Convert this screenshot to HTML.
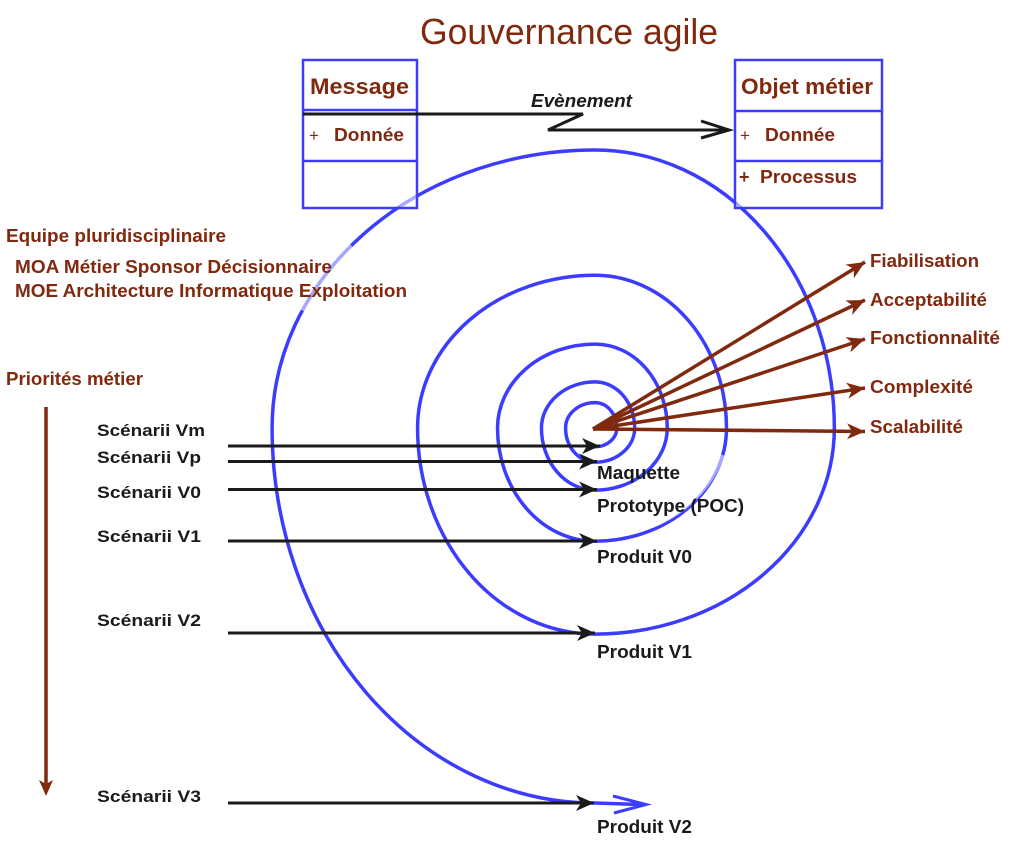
<!DOCTYPE html>
<html>
<head>
<meta charset="utf-8">
<style>
  html, body { margin: 0; padding: 0; background: #ffffff; }
  svg { display: block; }
  text { font-family: "Liberation Sans", Arial, sans-serif; }
  .red { fill: #80290f; font-weight: bold; }
  .blk { fill: #1a1a1a; font-weight: bold; }
</style>
</head>
<body>
<svg width="1024" height="852" viewBox="0 0 1024 852" xmlns="http://www.w3.org/2000/svg">
  <defs>
    <marker id="ar" markerWidth="20" markerHeight="16" refX="18" refY="8" orient="auto" markerUnits="userSpaceOnUse">
      <path d="M0,0 L18,8 L0,16 L5,8 z" fill="#80290f"/>
    </marker>
    <marker id="ab" markerWidth="20" markerHeight="16" refX="18" refY="8" orient="auto" markerUnits="userSpaceOnUse">
      <path d="M0,0 L18,8 L0,16 L5,8 z" fill="#1a1a1a"/>
    </marker>
  </defs>

  <rect x="0" y="0" width="1024" height="852" fill="#ffffff"/>

  <!-- Title -->
  <text x="420" y="44" font-size="36" fill="#80290f" textLength="298" lengthAdjust="spacingAndGlyphs">Gouvernance agile</text>

  <!-- Spiral -->
  <path fill="none" stroke="#3c3cff" stroke-width="3.5" stroke-linecap="round" d="
    M 595 446.78
    A 21.81 18.78 0 0 0 616.81 428
    A 21.81 25.33 0 0 0 595 402.67
    A 29.42 25.33 0 0 0 565.58 428
    A 29.42 34.18 0 0 0 595 462.18
    A 39.70 34.18 0 0 0 634.70 428
    A 39.70 46.11 0 0 0 595 381.89
    A 53.56 46.11 0 0 0 541.44 428
    A 53.56 62.21 0 0 0 595 490.21
    A 72.26 62.21 0 0 0 667.26 428
    A 72.26 83.93 0 0 0 595 344.07
    A 97.48 83.93 0 0 0 497.52 428
    A 97.48 113.22 0 0 0 595 541.22
    A 131.51 113.22 0 0 0 726.51 428
    A 131.51 152.75 0 0 0 595 275.25
    A 177.42 152.75 0 0 0 417.58 428
    A 177.42 206.07 0 0 0 595 634.07
    A 239.35 206.07 0 0 0 834.35 428
    A 239.35 278.01 0 0 0 595 149.99
    A 322.91 278.01 0 0 0 272.09 428
    A 322.91 375.06 0 0 0 595 803.06
    L 640 804.5"/>
  <polyline points="613,796 646,804.5 614,813" fill="none" stroke="#3c3cff" stroke-width="3" stroke-linejoin="miter"/>

  <!-- lighter spiral segments -->
  <path d="M 351.3 245.6 A 322.91 278.01 0 0 0 302.4 310.5" fill="none" stroke="#ffffff" stroke-opacity="0.55" stroke-width="4"/>
  <path d="M 652 526.3 A 131.51 113.22 0 0 0 722.7 455" fill="none" stroke="#ffffff" stroke-opacity="0.55" stroke-width="4"/>

  <!-- UML boxes -->
  <g stroke="#3c3cff" stroke-width="2.5">
    <rect x="303" y="60" width="114" height="148" fill="#ffffff" fill-opacity="0.55"/>
    <line x1="303" y1="110" x2="417" y2="110"/>
    <line x1="303" y1="161" x2="417" y2="161"/>
    <rect x="735" y="60" width="147" height="148" fill="#ffffff" fill-opacity="0.55"/>
    <line x1="735" y1="111" x2="882" y2="111"/>
    <line x1="735" y1="161" x2="882" y2="161"/>
  </g>
  <text class="red" x="310" y="94" font-size="22" textLength="99" lengthAdjust="spacingAndGlyphs">Message</text>
  <text x="309" y="141" font-size="17" fill="#80290f">+</text>
  <text class="red" x="334" y="141" font-size="18" textLength="70" lengthAdjust="spacingAndGlyphs">Donnée</text>

  <text class="red" x="741" y="94" font-size="22" textLength="132" lengthAdjust="spacingAndGlyphs">Objet métier</text>
  <text x="740" y="141" font-size="17" fill="#80290f">+</text>
  <text class="red" x="765" y="141" font-size="18" textLength="70" lengthAdjust="spacingAndGlyphs">Donnée</text>
  <text class="red" x="739" y="183" font-size="18">+</text>
  <text class="red" x="760" y="183" font-size="18" textLength="97" lengthAdjust="spacingAndGlyphs">Processus</text>

  <!-- Evènement connector -->
  <polyline points="303,114 583,114 548,130 726,130" fill="none" stroke="#1a1a1a" stroke-width="3" stroke-linejoin="miter"/>
  <polyline points="701,121 729,130 701,138" fill="none" stroke="#1a1a1a" stroke-width="3"/>
  <text x="531" y="107" font-size="18" font-style="italic" font-weight="bold" fill="#1a1a1a" textLength="101" lengthAdjust="spacingAndGlyphs">Evènement</text>

  <!-- Left labels -->
  <text class="red" x="6" y="242" font-size="18.5" textLength="220" lengthAdjust="spacingAndGlyphs">Equipe pluridisciplinaire</text>
  <text class="red" x="15" y="273" font-size="18.5" textLength="317" lengthAdjust="spacingAndGlyphs">MOA Métier Sponsor Décisionnaire</text>
  <text class="red" x="15" y="297" font-size="18.5" textLength="392" lengthAdjust="spacingAndGlyphs">MOE Architecture Informatique Exploitation</text>
  <text class="red" x="6" y="385" font-size="18.5" textLength="137" lengthAdjust="spacingAndGlyphs">Priorités métier</text>

  <!-- Vertical priority arrow -->
  <line x1="46" y1="407" x2="46" y2="784" stroke="#80290f" stroke-width="3.5"/>
  <path d="M39,780 L46,796 L53,780 L46,784 z" fill="#80290f"/>

  <!-- Scénarii labels -->
  <text class="blk" x="97" y="436" font-size="17" textLength="108" lengthAdjust="spacingAndGlyphs">Scénarii Vm</text>
  <text class="blk" x="97" y="463" font-size="17" textLength="104" lengthAdjust="spacingAndGlyphs">Scénarii Vp</text>
  <text class="blk" x="97" y="498" font-size="17" textLength="104" lengthAdjust="spacingAndGlyphs">Scénarii V0</text>
  <text class="blk" x="97" y="542" font-size="17" textLength="104" lengthAdjust="spacingAndGlyphs">Scénarii V1</text>
  <text class="blk" x="97" y="626" font-size="17" textLength="104" lengthAdjust="spacingAndGlyphs">Scénarii V2</text>
  <text class="blk" x="97" y="802" font-size="17" textLength="104" lengthAdjust="spacingAndGlyphs">Scénarii V3</text>

  <!-- Black arrows -->
  <g stroke="#1a1a1a" stroke-width="3" marker-end="url(#ab)">
    <line x1="228" y1="446" x2="600" y2="446"/>
    <line x1="228" y1="461.5" x2="597" y2="461.5"/>
    <line x1="228" y1="489.5" x2="597" y2="489.5"/>
    <line x1="228" y1="541" x2="597" y2="541"/>
    <line x1="228" y1="633" x2="595" y2="633"/>
    <line x1="228" y1="803" x2="594" y2="803"/>
  </g>

  <!-- Product labels -->
  <text class="blk" x="597" y="479" font-size="18" textLength="83" lengthAdjust="spacingAndGlyphs">Maquette</text>
  <text class="blk" x="597" y="512" font-size="18" textLength="147" lengthAdjust="spacingAndGlyphs">Prototype (POC)</text>
  <text class="blk" x="597" y="563" font-size="18" textLength="95" lengthAdjust="spacingAndGlyphs">Produit V0</text>
  <text class="blk" x="597" y="658" font-size="18" textLength="95" lengthAdjust="spacingAndGlyphs">Produit V1</text>
  <text class="blk" x="597" y="833" font-size="18" textLength="95" lengthAdjust="spacingAndGlyphs">Produit V2</text>

  <!-- Red arrows -->
  <g stroke="#80290f" stroke-width="3.5" marker-end="url(#ar)">
    <line x1="593" y1="429" x2="865" y2="262"/>
    <line x1="593" y1="429" x2="865" y2="300"/>
    <line x1="593" y1="429" x2="865" y2="339"/>
    <line x1="593" y1="429" x2="865" y2="388"/>
    <line x1="593" y1="429" x2="865" y2="431.5"/>
  </g>

  <!-- Right labels -->
  <text class="red" x="870" y="267" font-size="18" textLength="109" lengthAdjust="spacingAndGlyphs">Fiabilisation</text>
  <text class="red" x="870" y="306" font-size="18" textLength="117" lengthAdjust="spacingAndGlyphs">Acceptabilité</text>
  <text class="red" x="870" y="344" font-size="18" textLength="130" lengthAdjust="spacingAndGlyphs">Fonctionnalité</text>
  <text class="red" x="870" y="393" font-size="18" textLength="103" lengthAdjust="spacingAndGlyphs">Complexité</text>
  <text class="red" x="870" y="433" font-size="18" textLength="93" lengthAdjust="spacingAndGlyphs">Scalabilité</text>
</svg>
</body>
</html>
